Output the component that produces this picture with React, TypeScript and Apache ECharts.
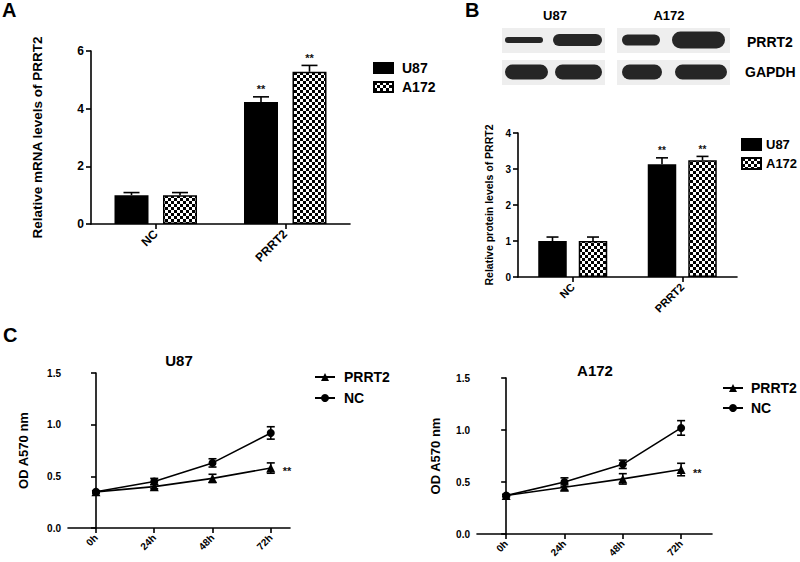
import React, { useEffect, useRef } from 'react';
import * as echarts from 'echarts';

// ---------- data ----------
const barCategories = ['NC', 'PRRT2'];
const mrnaU87 = [1.0, 4.23];
const mrnaU87Err = [0.09, 0.18];
const mrnaA172 = [1.0, 5.28];
const mrnaA172Err = [0.09, 0.22];
const mrnaStars = ['', '**'];

const protU87 = [1.0, 3.13];
const protU87Err = [0.11, 0.18];
const protA172 = [1.0, 3.24];
const protA172Err = [0.11, 0.11];
const protStars = ['', '**'];

const hours = ['0h', '24h', '48h', '72h'];
const u87PRRT2 = [0.35, 0.40, 0.48, 0.58];
const u87PRRT2Err = [0.01, 0.02, 0.04, 0.05];
const u87NC = [0.35, 0.45, 0.63, 0.92];
const u87NCErr = [0.01, 0.03, 0.04, 0.06];
const a172PRRT2 = [0.37, 0.45, 0.53, 0.62];
const a172PRRT2Err = [0.01, 0.03, 0.05, 0.06];
const a172NC = [0.37, 0.50, 0.67, 1.02];
const a172NCErr = [0.01, 0.04, 0.04, 0.07];
const odStars = ['', '', '', '**'];

const barLegend = ['U87', 'A172'];
const lineLegend = ['PRRT2', 'NC'];

// ---------- style ----------
const FONT = '"Liberation Sans", Arial, sans-serif';
const BLACK = '#000';

function checker() {
  const c = document.createElement('canvas');
  c.width = 6;
  c.height = 6;
  const ctx = c.getContext('2d')!;
  ctx.fillStyle = '#fff';
  ctx.fillRect(0, 0, 6, 6);
  ctx.fillStyle = '#000';
  ctx.fillRect(0, 0, 3, 3);
  ctx.fillRect(3, 3, 3, 3);
  return c;
}

function starText(text: string, x: number, y: number, align: string, vAlign: string, size: number) {
  return {
    type: 'text',
    style: { text, x, y, align, verticalAlign: vAlign, fontSize: size, fontWeight: 'bold', fontFamily: FONT, fill: '#111111', stroke: 'none' },
  };
}

function barErrSeries(axisIdx: number, values: number[], errs: number[], stars: string[], offset: number, cap: number, starSize: number) {
  return {
    type: 'custom',
    name: 'err' + axisIdx + offset,
    xAxisIndex: axisIdx,
    yAxisIndex: axisIdx,
    z: 5,
    silent: true,
    itemStyle: { color: BLACK },
    data: values.map((v, i) => [i, v, errs[i], stars[i] ? 1 : 0]),
    renderItem: (params: any, api: any) => {
      const i = api.value(0);
      const v = api.value(1);
      const e = api.value(2);
      const s = api.value(3);
      const base = api.coord([i, v]);
      const top = api.coord([i, v + e]);
      const x = base[0] + offset;
      const st = { stroke: BLACK, lineWidth: 1.6 };
      const children: any[] = [
        { type: 'line', shape: { x1: x, y1: base[1], x2: x, y2: top[1] }, style: st },
        { type: 'line', shape: { x1: x - cap, y1: top[1], x2: x + cap, y2: top[1] }, style: st },
      ];
      if (s) children.push(starText(stars[i], x, top[1] - 2, 'center', 'bottom', starSize));
      return { type: 'group', children };
    },
  };
}

function lineErrSeries(axisIdx: number, values: number[], errs: number[], stars: string[] | null) {
  return {
    type: 'custom',
    name: 'lerr' + axisIdx + values.join(),
    xAxisIndex: axisIdx,
    yAxisIndex: axisIdx,
    z: 5,
    silent: true,
    itemStyle: { color: BLACK },
    data: values.map((v, i) => [i, v, errs[i], stars && stars[i] ? 1 : 0]),
    renderItem: (params: any, api: any) => {
      const i = api.value(0);
      const v = api.value(1);
      const e = api.value(2);
      const s = api.value(3);
      const lo = api.coord([i, v - e]);
      const hi = api.coord([i, v + e]);
      const mid = api.coord([i, v]);
      const x = lo[0];
      const cap = 4;
      const st = { stroke: BLACK, lineWidth: 1.6 };
      const children: any[] = [
        { type: 'line', shape: { x1: x, y1: lo[1], x2: x, y2: hi[1] }, style: st },
        { type: 'line', shape: { x1: x - cap, y1: lo[1], x2: x + cap, y2: lo[1] }, style: st },
        { type: 'line', shape: { x1: x - cap, y1: hi[1], x2: x + cap, y2: hi[1] }, style: st },
      ];
      if (s && stars) children.push(starText(stars[i], x + 12, mid[1] + 3, 'left', 'middle', 11));
      return { type: 'group', children };
    },
  };
}

const axisLine = { show: true, lineStyle: { color: BLACK, width: 1.6 } };
const axisTick = { show: true, length: 5, lineStyle: { color: BLACK, width: 1.6 } };

export default function App() {
  const ref = useRef<HTMLDivElement>(null);

  useEffect(() => {
    if (!ref.current) return;
    const chart = echarts.init(ref.current, undefined, { renderer: 'svg' });
    const pattern = { image: checker(), repeat: 'repeat' };

    const BAR_A = 34;
    const GAP_A = 14.5;
    const BAR_B = 28.5;
    const GAP_B = 12;

    const barStyleBlack = { color: BLACK, borderColor: BLACK, borderWidth: 1.5 };
    const barStyleCheck = { color: pattern, borderColor: BLACK, borderWidth: 1.5 };

    const catAxis = (gridIndex: number, fontSize: number, margin: number) => ({
      type: 'category',
      gridIndex,
      data: barCategories,
      axisLine,
      axisTick: { ...axisTick, alignWithLabel: true },
      axisLabel: { rotate: 45, margin, color: BLACK, fontSize, fontWeight: 'bold', fontFamily: FONT },
    });

    const hourAxis = (gridIndex: number, min: number, max: number) => ({
      type: 'value',
      gridIndex,
      min,
      max,
      splitLine: { show: false },
      axisLine,
      axisTick: { ...axisTick, customValues: [0, 1, 2, 3] },
      axisLabel: {
        customValues: [0, 1, 2, 3],
        formatter: (v: number) => hours[Math.round(v)],
        rotate: 45,
        margin: 8,
        color: BLACK,
        fontSize: 10,
        fontWeight: 'bold',
        fontFamily: FONT,
      },
    });

    const valAxis = (gridIndex: number, max: number, interval: number, name: string, nameGap: number, nameSize: number, labelSize: number, dec: number) => ({
      type: 'value',
      gridIndex,
      min: 0,
      max,
      interval,
      splitLine: { show: false },
      axisLine,
      axisTick,
      axisLabel: {
        margin: 7,
        color: BLACK,
        fontSize: labelSize,
        fontWeight: 'bold',
        fontFamily: FONT,
        formatter: (v: number) => v.toFixed(dec),
      },
      name,
      nameLocation: 'middle',
      nameGap,
      nameTextStyle: { color: BLACK, fontSize: nameSize, fontWeight: 'bold', fontFamily: FONT },
    });

    const legendText = (size: number, pad: number) => ({
      color: BLACK,
      fontSize: size,
      fontWeight: 'bold',
      fontFamily: FONT,
      padding: [0, 0, 0, pad],
    });

    const band = (x1: number, x2: number, cy: number, h: number) => ({
      type: 'rect',
      shape: { x: x1, y: cy - h / 2, width: x2 - x1, height: h, r: h / 2 },
      style: { fill: '#262626' },
    });

    const label = (text: string, x: number, y: number, size: number, align = 'center') => ({
      type: 'text',
      x,
      y,
      style: { text, align, verticalAlign: 'middle', fontSize: size, fontWeight: 'bold', fontFamily: FONT, fill: BLACK },
    });

    const option: any = {
      animation: false,
      backgroundColor: '#fff',
      textStyle: { fontFamily: FONT },
      grid: [
        { left: 91, top: 51, width: 259, height: 173 },
        { left: 518, top: 133, width: 219, height: 144 },
        { left: 68, top: 373, width: 222, height: 155 },
        { left: 477, top: 378, width: 235, height: 156 },
      ],
      xAxis: [
        catAxis(0, 12, 8),
        catAxis(1, 11, 8),
        hourAxis(2, -0.48, 3.33),
        hourAxis(3, -0.5, 3.53),
      ],
      yAxis: [
        valAxis(0, 6, 2, 'Relative mRNA levels of PRRT2', 47, 13.5, 12, 0),
        valAxis(1, 4, 1, 'Relative protein levels of PRRT2', 24, 10.5, 10, 0),
        valAxis(2, 1.5, 0.5, 'OD A570 nm', 38, 13, 10, 1),
        valAxis(3, 1.5, 0.5, 'OD A570 nm', 35, 13, 10, 1),
      ],
      legend: [
        {
          data: barLegend, orient: 'vertical', left: 368, top: 56, itemWidth: 19, itemHeight: 10, itemGap: 5,
          icon: 'rect', selectedMode: false, textStyle: legendText(14, 4),
        },
        {
          data: barLegend, orient: 'vertical', left: 736, top: 133, itemWidth: 19, itemHeight: 11, itemGap: 6,
          icon: 'rect', selectedMode: false, textStyle: legendText(13, 0),
        },
        {
          data: lineLegend, orient: 'vertical', left: 309, top: 365, itemWidth: 20, itemHeight: 10, itemGap: 7,
          selectedMode: false, textStyle: legendText(14, 4),
        },
        {
          data: lineLegend, orient: 'vertical', left: 717, top: 376, itemWidth: 20, itemHeight: 10, itemGap: 6,
          selectedMode: false, textStyle: legendText(14, 3),
        },
      ],
      series: [
        // Panel A
        { type: 'bar', name: 'U87', xAxisIndex: 0, yAxisIndex: 0, data: mrnaU87, barWidth: BAR_A, barGap: `${(GAP_A / BAR_A) * 100}%`, itemStyle: barStyleBlack },
        { type: 'bar', name: 'A172', xAxisIndex: 0, yAxisIndex: 0, data: mrnaA172, barWidth: BAR_A, barGap: `${(GAP_A / BAR_A) * 100}%`, itemStyle: barStyleCheck },
        barErrSeries(0, mrnaU87, mrnaU87Err, mrnaStars, -(BAR_A + GAP_A) / 2, 8, 11),
        barErrSeries(0, mrnaA172, mrnaA172Err, mrnaStars, (BAR_A + GAP_A) / 2, 8, 11),
        // Panel B
        { type: 'bar', name: 'U87', xAxisIndex: 1, yAxisIndex: 1, data: protU87, barWidth: BAR_B, barGap: `${(GAP_B / BAR_B) * 100}%`, itemStyle: barStyleBlack },
        { type: 'bar', name: 'A172', xAxisIndex: 1, yAxisIndex: 1, data: protA172, barWidth: BAR_B, barGap: `${(GAP_B / BAR_B) * 100}%`, itemStyle: barStyleCheck },
        barErrSeries(1, protU87, protU87Err, protStars, -(BAR_B + GAP_B) / 2, 6, 10),
        barErrSeries(1, protA172, protA172Err, protStars, (BAR_B + GAP_B) / 2, 6, 10),
        // Panel C - U87
        { type: 'line', name: 'PRRT2', xAxisIndex: 2, yAxisIndex: 2, data: u87PRRT2.map((v, i) => [i, v]), symbol: 'triangle', symbolSize: 9, itemStyle: { color: BLACK }, lineStyle: { color: BLACK, width: 1.6 }, z: 6 },
        { type: 'line', name: 'NC', xAxisIndex: 2, yAxisIndex: 2, data: u87NC.map((v, i) => [i, v]), symbol: 'circle', symbolSize: 8, itemStyle: { color: BLACK }, lineStyle: { color: BLACK, width: 1.6 }, z: 6 },
        lineErrSeries(2, u87PRRT2, u87PRRT2Err, odStars),
        lineErrSeries(2, u87NC, u87NCErr, null),
        // Panel C - A172
        { type: 'line', name: 'PRRT2', xAxisIndex: 3, yAxisIndex: 3, data: a172PRRT2.map((v, i) => [i, v]), symbol: 'triangle', symbolSize: 9, itemStyle: { color: BLACK }, lineStyle: { color: BLACK, width: 1.6 }, z: 6 },
        { type: 'line', name: 'NC', xAxisIndex: 3, yAxisIndex: 3, data: a172NC.map((v, i) => [i, v]), symbol: 'circle', symbolSize: 8, itemStyle: { color: BLACK }, lineStyle: { color: BLACK, width: 1.6 }, z: 6 },
        lineErrSeries(3, a172PRRT2, a172PRRT2Err, odStars),
        lineErrSeries(3, a172NC, a172NCErr, null),
      ],
      graphic: [
        label('A', 2, 10, 20, 'left'),
        label('B', 465, 10, 20, 'left'),
        label('C', 3, 335, 20, 'left'),
        label('U87', 179, 360, 15),
        label('A172', 595, 370, 15),
        // western blot
        { type: 'rect', shape: { x: 502, y: 28, width: 103, height: 25 }, style: { fill: '#eeeeee' } },
        { type: 'rect', shape: { x: 502, y: 60, width: 103, height: 25 }, style: { fill: '#eeeeee' } },
        { type: 'rect', shape: { x: 617, y: 28, width: 113, height: 25 }, style: { fill: '#eeeeee' } },
        { type: 'rect', shape: { x: 617, y: 60, width: 113, height: 25 }, style: { fill: '#eeeeee' } },
        band(505, 543, 40, 6),
        band(553, 602, 40, 12),
        band(622, 660, 40, 11),
        band(672, 725, 40, 17),
        band(505, 548, 72, 15),
        band(555, 602, 72, 15),
        band(622, 662, 72, 15),
        band(675, 727, 72, 15),
        label('U87', 555, 15, 13),
        label('A172', 669, 15, 13),
        label('PRRT2', 747, 42, 14, 'left'),
        label('GAPDH', 745, 72, 14, 'left'),
      ],
    };

    chart.setOption(option);
    return () => chart.dispose();
  }, []);

  return <div ref={ref} style={{ position: 'absolute', left: 0, top: 0, width: 800, height: 562, background: '#fff' }} />;
}
